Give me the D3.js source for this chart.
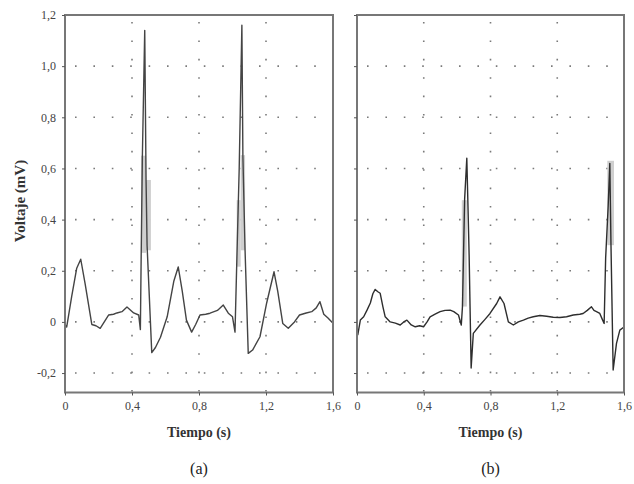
<!DOCTYPE html>
<html>
<head>
<meta charset="utf-8">
<script src="https://cdn.jsdelivr.net/npm/d3@7"></script>
<style>
  html, body { margin: 0; padding: 0; background: #fff; }
  svg { display: block; }
  svg text { font-family: "Liberation Serif", "Times New Roman", serif; }
  .tick text { fill: #444; font-size: 12px; }
  .tick line { stroke: #555; }
</style>
</head>
<body>
<svg id="chart" width="634" height="484"></svg>
<script>
// tick values and labels
const xTicks = [0, 0.4, 0.8, 1.2, 1.6];
const xTickLabels = ['0', '0,4', '0,8', '1,2', '1,6'];
const yTicks = [-0.2, 0, 0.2, 0.4, 0.6, 0.8, 1.0, 1.2];
const yTickLabels = ['-0,2', '0', '0,2', '0,4', '0,6', '0,8', '1,0', '1,2'];

// panel (a) : time (s) / voltage (mV)
const aTime = [0, 0.01, 0.04, 0.07, 0.094, 0.12, 0.16, 0.185, 0.21, 0.26, 0.29, 0.31, 0.34, 0.37, 0.41, 0.44,
  0.45, 0.455, 0.462, 0.476, 0.484, 0.49, 0.518, 0.54, 0.57, 0.61, 0.65, 0.676, 0.70, 0.725, 0.756, 0.78,
  0.806, 0.84, 0.866, 0.91, 0.945, 0.975, 1.0, 1.015, 1.025, 1.04, 1.056, 1.062, 1.075, 1.094, 1.12, 1.164,
  1.204, 1.248, 1.27, 1.30, 1.333, 1.37, 1.40, 1.44, 1.473, 1.50, 1.522, 1.545, 1.57, 1.6];
const aVolt = [-0.01, -0.02, 0.10, 0.21, 0.245, 0.15, -0.01, -0.015, -0.025, 0.027, 0.03, 0.035, 0.04, 0.058, 0.035, 0.027,
  -0.03, 0.27, 0.65, 1.14, 0.55, 0.3, -0.12, -0.1, -0.06, 0.02, 0.16, 0.215, 0.12, 0.007, -0.04, -0.01,
  0.027, 0.03, 0.034, 0.045, 0.066, 0.034, 0.02, -0.04, 0.22, 0.6, 1.16, 0.65, 0.28, -0.123, -0.11, -0.058,
  0.074, 0.196, 0.12, -0.006, -0.025, 0.0, 0.027, 0.035, 0.04, 0.055, 0.079, 0.03, 0.015, -0.005];
// light grey smear on the QRS up/down strokes: [t0, t1, v0, v1]
const aSmear = [[0.454, 0.484, 0.27, 0.65], [0.484, 0.513, 0.28, 0.555], [1.025, 1.049, 0.216, 0.476], [1.049, 1.075, 0.28, 0.652]];

// panel (b)
const bTime = [0, 0.005, 0.02, 0.04, 0.06, 0.08, 0.095, 0.109, 0.125, 0.139, 0.155, 0.169, 0.199, 0.23, 0.259, 0.28,
  0.299, 0.325, 0.349, 0.375, 0.399, 0.42, 0.438, 0.468, 0.498, 0.528, 0.558, 0.58, 0.608, 0.625, 0.632, 0.645,
  0.658, 0.664, 0.672, 0.684, 0.697, 0.737, 0.767, 0.797, 0.837, 0.857, 0.881, 0.907, 0.937, 0.967, 0.997, 1.026,
  1.056, 1.096, 1.136, 1.176, 1.216, 1.256, 1.296, 1.335, 1.355, 1.38, 1.405, 1.42, 1.435, 1.455, 1.47, 1.481,
  1.49, 1.505, 1.515, 1.522, 1.535, 1.555, 1.575, 1.6];
const bVolt = [-0.01, -0.05, 0.007, 0.02, 0.046, 0.074, 0.11, 0.127, 0.118, 0.112, 0.06, 0.02, 0.0, -0.005, -0.012, 0.0,
  0.007, -0.012, -0.019, -0.015, -0.019, 0.0, 0.02, 0.03, 0.04, 0.045, 0.046, 0.04, 0.027, -0.012, 0.06, 0.48,
  0.64, 0.48, 0.26, -0.18, -0.045, -0.012, 0.01, 0.033, 0.072, 0.098, 0.072, 0.0, -0.012, 0.0, 0.007, 0.015,
  0.02, 0.025, 0.022, 0.018, 0.017, 0.02, 0.027, 0.03, 0.033, 0.045, 0.059, 0.045, 0.04, 0.033, 0.01, -0.006,
  0.25, 0.45, 0.62, 0.3, -0.188, -0.084, -0.032, -0.02];
const bSmear = [[0.628, 0.658, 0.06, 0.476], [1.5, 1.54, 0.3, 0.63]];

const svg = d3.select('#chart');

const plotTop = 15, plotBottom = 392.5;
const yMin = -0.276, yMax = 1.2;

const panels = [
  { left: 65, right: 333, time: aTime, volt: aVolt, smear: aSmear, tag: '(a)', yLabels: true, color: '#444' },
  { left: 357, right: 624, time: bTime, volt: bVolt, smear: bSmear, tag: '(b)', yLabels: false, color: '#2e2e2e' }
];

panels.forEach(function (p) {
  let x = d3.scaleLinear().domain([0, 1.6]).range([p.left, p.right]);
  let y = d3.scaleLinear().domain([yMin, yMax]).range([plotBottom, plotTop]);

  let g = svg.append('g');

  /*
   * dotted grid
   */
  let grid = g.append('g')
    .attr('stroke', '#7a7a7a')
    .attr('stroke-width', 1.6)
    .attr('stroke-dasharray', '1.6,16.8');

  grid.selectAll('.gx')
    .data(xTicks.slice(1, -1))
    .enter()
    .append('line')
    .attr('x1', d => x(d)).attr('x2', d => x(d))
    .attr('y1', plotTop).attr('y2', plotBottom)
    .attr('stroke-dashoffset', -7);

  grid.selectAll('.gy')
    .data(yTicks.filter(d => d < 1.2))
    .enter()
    .append('line')
    .attr('y1', d => y(d)).attr('y2', d => y(d))
    .attr('x1', p.left).attr('x2', p.right)
    .attr('stroke-dashoffset', -10);

  /*
   * grey smear on the spikes
   */
  g.selectAll('.smear')
    .data(p.smear)
    .enter()
    .append('rect')
    .attr('x', d => x(d[0]))
    .attr('width', d => x(d[1]) - x(d[0]))
    .attr('y', d => y(d[3]))
    .attr('height', d => y(d[2]) - y(d[3]))
    .attr('fill', '#cfcfcf');

  /*
   * trace
   */
  let line = d3.line()
    .x(d => x(d[0]))
    .y(d => y(d[1]));

  g.append('path')
    .datum(d3.zip(p.time, p.volt))
    .attr('d', line)
    .attr('fill', 'none')
    .attr('stroke', p.color)
    .attr('stroke-width', 1.4)
    .attr('stroke-linejoin', 'round');

  /*
   * frame
   */
  g.append('rect')
    .attr('x', p.left).attr('y', plotTop)
    .attr('width', p.right - p.left).attr('height', plotBottom - plotTop)
    .attr('fill', 'none')
    .attr('stroke', '#777')
    .attr('stroke-width', 2);

  /*
   * axes
   */
  let axisX = d3.axisBottom(x)
    .tickValues(xTicks)
    .tickFormat((d, i) => xTickLabels[i])
    .tickSizeInner(3)
    .tickSizeOuter(0)
    .tickPadding(6);

  g.append('g')
    .attr('transform', 'translate(0,' + plotBottom + ')')
    .call(axisX)
    .call(s => s.select('.domain').remove());

  let axisY = d3.axisLeft(y)
    .tickValues(yTicks)
    .tickFormat((d, i) => p.yLabels ? yTickLabels[i] : '')
    .tickSizeInner(3)
    .tickSizeOuter(0)
    .tickPadding(6);

  g.append('g')
    .attr('transform', 'translate(' + p.left + ',0)')
    .call(axisY)
    .call(s => s.select('.domain').remove());

  let cx = (p.left + p.right) / 2;

  g.append('text')
    .attr('x', cx).attr('y', 437)
    .attr('text-anchor', 'middle')
    .attr('font-size', 14)
    .attr('font-weight', 'bold')
    .attr('fill', '#333')
    .text('Tiempo (s)');

  g.append('text')
    .attr('x', cx).attr('y', 474)
    .attr('text-anchor', 'middle')
    .attr('font-size', 16)
    .attr('fill', '#222')
    .text(p.tag);
});

svg.append('text')
  .attr('transform', 'translate(25,201) rotate(-90)')
  .attr('text-anchor', 'middle')
  .attr('font-size', 15)
  .attr('font-weight', 'bold')
  .attr('fill', '#333')
  .text('Voltaje (mV)');
</script>
</body>
</html>
